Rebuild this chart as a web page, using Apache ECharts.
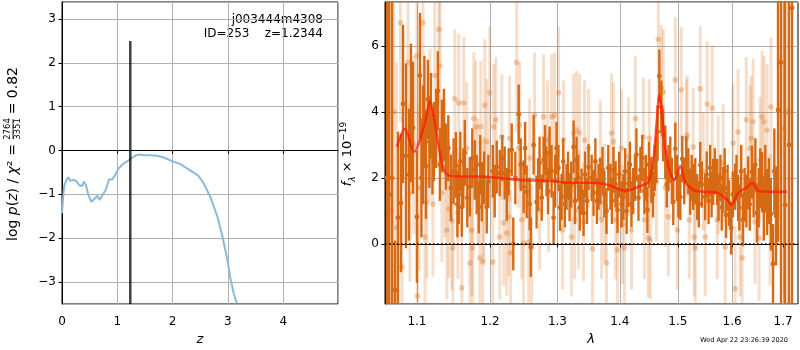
<!DOCTYPE html>
<html>
<head>
<meta charset="utf-8">
<script src="https://cdn.jsdelivr.net/npm/echarts@6/dist/echarts.min.js"></script>
<style>
html, body { margin: 0; background: #fff; }
#main { width: 800px; height: 350px; }
</style>
</head>
<body>
<div id="main"></div>
<script>
// p(z) curve: [z, log p(z)]
const pz = [
  [0.0, -1.43], [0.036, -0.83], [0.08, -0.67], [0.115, -0.61], [0.15, -0.69], [0.21, -0.67],
  [0.27, -0.71], [0.31, -0.79], [0.37, -0.81], [0.39, -0.71], [0.43, -0.77], [0.47, -0.98],
  [0.53, -1.17], [0.58, -1.11], [0.64, -1.03], [0.68, -1.13], [0.73, -1.02], [0.79, -0.90],
  [0.82, -0.86], [0.85, -0.66], [0.91, -0.66], [0.96, -0.56], [1.02, -0.41], [1.11, -0.30],
  [1.20, -0.23], [1.26, -0.17], [1.34, -0.11], [1.41, -0.09], [1.47, -0.11], [1.59, -0.11],
  [1.72, -0.12], [1.84, -0.16], [1.99, -0.24], [2.14, -0.31], [2.29, -0.43], [2.47, -0.58],
  [2.56, -0.75], [2.68, -1.05], [2.81, -1.51], [2.90, -1.96], [2.99, -2.49], [3.05, -2.95],
  [3.11, -3.29], [3.16, -3.48]
];
const zBest = 1.2344;
const zLine = [-3.5, 2.5];

// binned spectrum: [lambda, flux, err]
const darkSpec = [
  [1.0615,2.0,8],[1.0641,1.5,8],[1.0679,2.0,8],[1.0717,-1.4,1.5],[1.0755,0.8,2.6],[1.0793,1.24,2.1],
  [1.0819,4.24,2.4],[1.0857,2.67,2.8],[1.0896,2.1,2.0],[1.0922,3.97,2.1],[1.0948,3.52,2.0],[1.1,0.82,2.0],
  [1.1039,5.1,1.9],[1.1059,2.0,1.8],[1.1079,3.0,1.8],[1.1098,4.0,1.7],[1.1118,2.36,1.6],[1.1144,4.38,1.2],
  [1.1164,3.1,1.4],[1.1184,3.88,1.3],[1.1205,2.8,1.3],[1.1224,3.1,1.2],[1.1254,3.5,1.2],[1.1277,4.64,1.2],
  [1.1304,2.4,1.1],[1.1331,3.27,1.1],[1.1358,3.6,1.1],[1.1385,2.64,1.0],[1.1418,2.9,1.0],[1.1453,1.70,1.0],
  [1.149,2.2,1.0],[1.1521,2.39,1.0],[1.1542,1.2,1.0],[1.1562,1.5,0.9],[1.1582,2.5,0.9],[1.1603,1.12,0.9],
  [1.1624,2.0,0.9],[1.1644,2.76,1.0],[1.1679,1.4,0.9],[1.1714,1.73,0.9],[1.1748,2.6,0.9],[1.1783,2.24,0.9],
  [1.181,1.8,0.9],[1.1839,1.12,0.8],[1.186,2.4,0.9],[1.1882,1.58,0.9],[1.1915,2.0,0.8],[1.1952,1.12,0.8],
  [1.1975,1.9,0.8],[1.2038,2.2,0.8],[1.2065,1.6,0.8],[1.2095,2.33,0.8],[1.2138,2.15,0.7],[1.2175,2.6,0.7],
  [1.221,2.15,0.8],[1.224,1.5,0.8],[1.2268,2.2,0.7],[1.2312,2.85,0.8],[1.2335,0.0,0.8],[1.2365,2.0,0.8],
  [1.2415,3.93,0.9],[1.2445,2.4,0.8],[1.2488,1.73,0.8],[1.251,2.9,0.8],[1.2533,1.58,0.8],[1.2577,1.21,0.8],
  [1.2595,-0.1,0.9],[1.2637,3.0,0.9],[1.2682,1.27,0.8],[1.2705,1.8,0.8],[1.2727,2.45,0.8],[1.276,1.4,0.7],
  [1.2788,2.55,0.7],[1.281,2.9,0.7],[1.2833,2.15,0.7],[1.2855,1.6,0.7],[1.2879,2.76,0.8],[1.291,2.2,0.8],
  [1.2941,0.79,0.8],[1.2965,1.9,0.8],[1.2987,2.9,0.8],[1.3015,2.3,0.7],[1.304,1.1,0.7],[1.3064,1.42,0.7],
  [1.309,2.5,0.7],[1.3115,1.2,0.7],[1.3142,1.73,0.7],[1.3165,2.1,0.7],[1.3189,1.39,0.7],[1.3215,1.8,0.7],
  [1.3252,2.94,0.8],[1.3275,1.3,0.7],[1.3299,2.55,0.7],[1.3325,2.0,0.7],[1.335,1.1,0.7],[1.3378,1.58,0.7],
  [1.341,0.94,0.7],[1.3435,2.1,0.7],[1.3465,1.3,0.7],[1.349,2.33,0.7],[1.354,2.0,0.7],[1.357,1.55,0.7],
  [1.360,2.5,0.7],[1.3625,1.3,0.7],[1.3651,1.73,0.7],[1.368,1.9,0.7],[1.3716,2.24,0.7],[1.3745,1.5,0.7],
  [1.3781,1.0,0.7],[1.381,2.3,0.7],[1.3846,1.73,0.7],[1.387,1.3,0.7],[1.3896,2.24,0.7],[1.393,1.8,0.7],
  [1.3962,1.03,0.7],[1.399,2.1,0.7],[1.403,1.2,0.7],[1.4061,1.42,0.7],[1.409,2.2,0.7],[1.4115,1.0,0.7],
  [1.4145,1.82,0.7],[1.417,2.4,0.7],[1.4196,1.21,0.7],[1.4225,1.6,0.7],[1.4255,2.0,0.7],[1.428,2.7,0.8],
  [1.4315,1.4,0.7],[1.4348,2.24,0.7],[1.438,2.6,0.7],[1.4416,1.6,0.7],[1.444,2.0,0.7],[1.4467,1.03,0.7],
  [1.4495,2.4,0.7],[1.4536,1.94,0.7],[1.4565,1.5,0.7],[1.4595,2.3,0.7],[1.4623,2.55,0.7],[1.4645,3.4,0.8],
  [1.4675,5.09,0.8],[1.4709,4.15,0.8],[1.474,3.3,0.8],[1.4779,2.79,0.8],[1.4805,1.8,0.7],[1.4835,2.3,0.7],
  [1.4867,2.55,0.7],[1.4895,1.9,0.7],[1.492,1.27,0.7],[1.4956,2.88,0.8],[1.4985,2.0,0.7],[1.501,1.5,0.7],
  [1.5045,1.42,0.7],[1.508,2.58,0.7],[1.5115,1.9,0.7],[1.5152,2.55,0.7],[1.519,2.2,0.7],[1.5224,1.58,0.7],
  [1.525,2.0,0.7],[1.5278,1.73,0.7],[1.5315,1.9,0.7],[1.5351,1.42,0.7],[1.538,1.2,0.7],[1.5406,2.39,0.7],
  [1.5435,1.8,0.7],[1.5497,1.42,0.7],[1.5525,2.1,0.7],[1.556,1.3,0.7],[1.5589,2.3,0.7],[1.5615,1.5,0.7],
  [1.5645,1.88,0.7],[1.5675,2.2,0.7],[1.5719,1.88,0.7],[1.5745,1.4,0.7],[1.578,2.0,0.7],[1.5805,1.1,0.7],
  [1.5831,1.64,0.7],[1.586,2.2,0.7],[1.5887,0.88,0.7],[1.5915,1.7,0.7],[1.5944,1.24,0.7],[1.5982,0.48,0.8],
  [1.6015,1.5,0.7],[1.6058,1.73,0.7],[1.6085,2.0,0.7],[1.6115,1.39,0.7],[1.614,1.1,0.7],[1.6175,2.2,0.8],
  [1.6211,0.73,0.8],[1.624,1.5,0.8],[1.6275,1.3,0.8],[1.6308,1.85,0.8],[1.634,1.2,0.8],[1.6385,2.18,0.8],
  [1.6415,1.6,0.8],[1.645,2.4,0.8],[1.6483,0.94,0.9],[1.6515,1.4,0.9],[1.6545,2.0,0.9],[1.6581,1.88,0.9],
  [1.6615,1.0,0.9],[1.6645,2.0,1.0],[1.668,1.27,1.0],[1.6715,1.6,1.0],[1.6755,0.9,1.1],[1.6799,-0.6,1.2],
  [1.6825,2.2,1.3],[1.6859,0.85,1.5],[1.6899,4.06,4],[1.6959,5.5,8],[1.704,1.18,8],[1.7121,3,8],
  [1.7182,7.15,9]
];

// unbinned spectrum: [lambda, flux, err]
const lightSpec = [
  [1.063,2.5,8],[1.0665,1.0,8],[1.070,4.0,6],[1.0735,0.5,5],[1.0785,6.7,3.0],[1.0806,-0.7,3.0],
  [1.0883,5.5,3.0],[1.0909,1.55,2.7],[1.0961,3.0,2.7],[1.1,5.7,2.7],[1.1006,-1.58,2.5],[1.1026,1.7,2.5],
  [1.1079,6.7,2.5],[1.1105,0.21,2.4],[1.1131,1.27,2.3],[1.1171,3.6,2.3],[1.1211,1.21,2.2],[1.1237,5.1,2.3],
  [1.1291,6.5,2.3],[1.1304,5.4,2.3],[1.1331,1.55,2.1],[1.1371,2.3,2.1],[1.1399,0.42,2.1],[1.1426,1.06,2.1],
  [1.1466,0.7,2.1],[1.148,-0.12,2.1],[1.1507,4.4,2.1],[1.1548,0.94,2.0],[1.1562,4.27,2.1],[1.1603,-1.33,2.0],
  [1.1631,4.27,2.0],[1.1672,2.9,2.0],[1.1714,-0.58,2.0],[1.1741,0.42,2.0],[1.1755,-0.12,2.0],[1.1769,3.8,2.0],
  [1.1797,3.55,2.0],[1.1826,1.9,1.9],[1.1854,-0.42,2.0],[1.1868,3.55,2.0],[1.1896,-0.55,2.0],[1.191,1.33,1.9],
  [1.1924,4.2,2.0],[1.1952,3.1,1.9],[1.1995,4.58,2.0],[1.2038,-0.55,2.0],[1.2052,3.55,1.9],[1.2081,3.76,1.9],
  [1.2138,0.21,1.9],[1.2167,3.24,1.9],[1.2196,0.64,1.9],[1.2239,0.33,1.9],[1.2268,0.82,1.8],[1.2283,3.2,1.9],
  [1.2297,-0.27,1.9],[1.2385,5.5,2.1],[1.2415,2.9,1.8],[1.2429,3.6,1.9],[1.2459,0.73,1.8],[1.2488,0.03,1.9],
  [1.2562,0.06,1.9],[1.2577,2.6,1.8],[1.2607,-0.09,1.9],[1.2652,3.9,1.9],[1.2727,1.03,1.8],[1.2788,3.85,1.9],
  [1.2848,3.15,1.8],[1.2863,1.55,1.8],[1.291,3.85,1.9],[1.2956,3.9,1.9],[1.3018,4.58,2.0],[1.308,0.42,1.8],
  [1.3095,3.15,1.8],[1.322,0.21,1.8],[1.3252,3.36,1.8],[1.3268,0.73,1.8],[1.3299,3.45,1.8],[1.3331,1.03,1.8],
  [1.3346,3.36,1.8],[1.341,0.67,1.8],[1.3426,3.15,1.8],[1.349,2.9,1.8],[1.3554,-0.15,1.8],[1.3683,2.55,1.8],
  [1.3699,0.73,1.8],[1.3748,1.24,1.8],[1.3781,-0.58,1.8],[1.3862,3.36,1.8],[1.3896,3.1,1.8],[1.3929,0.73,1.8],
  [1.3962,-0.18,1.8],[1.4028,2.9,1.8],[1.4045,0.58,1.8],[1.4078,-0.12,1.8],[1.4145,2.64,1.8],[1.4196,0.42,1.8],
  [1.4263,3.8,1.9],[1.4399,3.24,1.8],[1.4416,0.73,1.8],[1.4484,0.18,1.8],[1.4501,3.2,1.8],[1.4519,0.12,1.8],
  [1.4623,1.88,1.8],[1.4657,6.2,1.9],[1.4709,4.73,1.9],[1.4744,4.6,1.9],[1.4779,1.7,1.8],[1.4832,0.82,1.8],
  [1.4956,4.97,1.9],[1.4992,0.42,1.8],[1.5062,4.67,1.9],[1.5152,3.2,1.8],[1.517,3.3,1.8],[1.5206,0.73,1.8],
  [1.5278,2.94,1.8],[1.5296,0.21,1.8],[1.5314,-0.12,1.8],[1.5406,4.7,1.9],[1.5462,2.2,1.8],[1.5497,0.21,1.8],
  [1.5534,4.24,1.9],[1.5627,4.12,1.9],[1.5719,0.73,1.8],[1.5738,2.09,1.8],[1.5831,2.45,1.8],[1.5868,-0.09,1.8],
  [1.602,3.06,1.8],[1.6058,-1.36,1.9],[1.6115,3.39,1.9],[1.6153,0.21,1.8],[1.6192,-0.42,1.8],[1.6273,3.76,1.9],
  [1.6346,2.9,1.9],[1.6366,3.2,1.9],[1.6405,3.7,1.9],[1.6444,0.67,1.9],[1.6522,0.18,1.9],[1.6541,2.55,1.9],
  [1.6581,3.85,2.0],[1.662,3.7,2.0],[1.668,3.45,2.0],[1.674,0.73,2.0],[1.6759,4.15,2.1],[1.6939,3.24,2.5],
  [1.702,3.5,5],[1.7101,4,6]
];

// best-fit model: [lambda, flux]
const modelSpec = [
  [1.074,2.94],[1.0844,3.48],[1.0961,2.79],[1.1105,3.67],[1.1171,4.33],[1.1237,3.67],[1.1304,2.76],
  [1.1371,2.18],[1.1466,2.06],[1.1995,2.03],[1.243,1.94],[1.294,1.91],[1.314,1.85],[1.3538,1.85],
  [1.3814,1.79],[1.4094,1.61],[1.4313,1.73],[1.4484,1.88],[1.4571,2.55],[1.4623,3.55],[1.4675,4.52],
  [1.4726,3.85],[1.478,2.85],[1.4867,2.15],[1.4938,1.94],[1.5045,2.36],[1.5135,1.88],[1.5279,1.64],
  [1.5462,1.58],[1.5721,1.55],[1.5908,1.33],[1.5985,1.18],[1.6119,1.55],[1.6273,1.70],[1.6388,1.85],
  [1.6506,1.61],[1.674,1.58],[1.708,1.58]
];

const lamTicks = [1.1, 1.2, 1.3, 1.4, 1.5, 1.6, 1.7];

const FONT = 'DejaVu Sans';
const GRIDC = '#b0b0b0';
const ORANGE = '#d66a14';

function minus(v) {
  return v < 0 ? '\u2212' + Math.abs(v) : String(v);
}

// error bar + marker drawn through the axes
function errorBars(barColor, barWidth, dotColor, r) {
  return function (params, api) {
    const cs = params.coordSys;
    const x = api.value(0), y = api.value(1), e = api.value(2);
    const p = api.coord([x, y]);
    let top = api.coord([x, y + e])[1];
    let bot = api.coord([x, y - e])[1];
    top = Math.max(top, cs.y);
    bot = Math.min(bot, cs.y + cs.height);
    const kids = [];
    if (bot > top) {
      kids.push({ type: 'line', shape: { x1: p[0], y1: top, x2: p[0], y2: bot },
        style: { stroke: barColor, lineWidth: barWidth } });
    }
    if (p[1] >= cs.y && p[1] <= cs.y + cs.height) {
      kids.push({ type: 'circle', shape: { cx: p[0], cy: p[1], r: r }, style: { fill: dotColor } });
    }
    return { type: 'group', children: kids };
  };
}

const chart = echarts.init(document.getElementById('main'));

const axisCommon = {
  axisLine: { lineStyle: { color: '#000' } },
  axisTick: { length: 3.5, lineStyle: { color: '#000' } },
  splitLine: { lineStyle: { color: GRIDC, width: 1 } }
};

const option = {
  animation: false,
  textStyle: { fontFamily: FONT },
  grid: [
    { left: 62, top: 2, width: 276, height: 302, show: true, borderColor: '#000', borderWidth: 1 },
    { left: 385, top: 2, width: 413, height: 302, show: true, borderColor: '#000', borderWidth: 1 }
  ],
  xAxis: [
    Object.assign({}, axisCommon, {
      gridIndex: 0, type: 'value', min: 0, max: 4.99, splitNumber: 5, minInterval: 1, maxInterval: 1,
      axisLabel: { color: '#000', fontSize: 12, margin: 12, showMaxLabel: false, formatter: minus }
    }),
    Object.assign({}, axisCommon, {
      gridIndex: 1, type: 'log', logBase: 10, min: 1.059, max: 1.7305,
      axisTick: { length: 3.5, lineStyle: { color: '#000' }, customValues: lamTicks },
      axisLabel: { color: '#000', fontSize: 12, margin: 12, customValues: lamTicks,
        formatter: function (v) { return (+v).toFixed(1); } }
    })
  ],
  yAxis: [
    Object.assign({}, axisCommon, {
      gridIndex: 0, type: 'value', min: -3.5, max: 3.387, splitNumber: 7, minInterval: 1, maxInterval: 1,
      axisLabel: { color: '#000', fontSize: 12, margin: 6, showMinLabel: false, showMaxLabel: false, formatter: minus }
    }),
    Object.assign({}, axisCommon, {
      gridIndex: 1, type: 'value', min: -1.82, max: 7.33, splitNumber: 5, minInterval: 2, maxInterval: 2,
      axisLabel: { color: '#000', fontSize: 12, margin: 6, showMinLabel: false, showMaxLabel: false, formatter: minus }
    })
  ],
  series: [
    {
      type: 'line', xAxisIndex: 0, yAxisIndex: 0, data: pz, showSymbol: false, z: 3,
      lineStyle: { color: '#8cbad9', width: 2 }
    },
    {
      type: 'line', xAxisIndex: 0, yAxisIndex: 0, showSymbol: false, z: 4,
      data: [[zBest, zLine[0]], [zBest, zLine[1]]],
      lineStyle: { color: 'rgba(0,0,0,0.75)', width: 2.5 }
    },
    {
      type: 'custom', xAxisIndex: 1, yAxisIndex: 1, z: 2,
      dimensions: ['lam', 'flux', 'err'], encode: { x: 0, y: 1 },
      renderItem: errorBars('rgba(214,106,20,0.22)', 3, 'rgba(214,106,20,0.32)', 2.8),
      data: lightSpec
    },
    {
      type: 'custom', xAxisIndex: 1, yAxisIndex: 1, z: 3,
      dimensions: ['lam', 'flux', 'err'], encode: { x: 0, y: 1 },
      renderItem: errorBars(ORANGE, 2.4, ORANGE, 2.4),
      data: darkSpec
    },
    {
      type: 'line', xAxisIndex: 1, yAxisIndex: 1, data: modelSpec, showSymbol: false, smooth: 0.3, z: 5,
      lineStyle: { color: 'rgba(255,25,0,0.72)', width: 2.5 },
      markLine: {
        silent: true, symbol: 'none', label: { show: false },
        lineStyle: { color: '#000', width: 1.5, type: [1.5, 2.5] },
        data: [{ yAxis: 0 }]
      }
    }
  ],
  graphic: [
    { type: 'text', x: 323, y: 20, style: { text: 'j003444m4308', fontFamily: FONT, fontSize: 12, fill: '#000', align: 'right', verticalAlign: 'middle' } },
    { type: 'text', x: 323, y: 34, style: { text: 'ID=253    z=1.2344', fontFamily: FONT, fontSize: 12, fill: '#000', align: 'right', verticalAlign: 'middle' } },
    { type: 'text', x: 200, y: 340, style: { text: 'z', fontFamily: FONT, fontStyle: 'italic', fontSize: 13, fill: '#000', align: 'center', verticalAlign: 'middle' } },
    { type: 'text', x: 591, y: 340, style: { text: 'λ', fontFamily: FONT, fontStyle: 'italic', fontSize: 13, fill: '#000', align: 'center', verticalAlign: 'middle' } },
    { type: 'text', x: 788, y: 340, style: { text: 'Wed Apr 22 23:26:39 2020', fontFamily: FONT, fontSize: 6.5, fill: '#000', align: 'right', verticalAlign: 'middle' } },
    {
      type: 'group', x: 13, y: 241, rotation: Math.PI / 2,
      children: [
        { type: 'text', x: 0, y: 0, style: {
          text: '{n|log }{i|p}{n|(}{i|z}{n|) / }{i|χ}{n|²}', verticalAlign: 'middle', align: 'left',
          rich: { n: { fontFamily: FONT, fontSize: 14 }, i: { fontFamily: FONT, fontSize: 14, fontStyle: 'italic' } } } },
        { type: 'text', x: 91, y: 0, style: { text: '=', fontFamily: FONT, fontSize: 14, align: 'center', verticalAlign: 'middle' } },
        { type: 'text', x: 112, y: -5, style: { text: '2764', fontFamily: FONT, fontSize: 8.5, align: 'center', verticalAlign: 'middle' } },
        { type: 'line', shape: { x1: 102, y1: 0, x2: 122, y2: 0 }, style: { stroke: '#000', lineWidth: 0.8 } },
        { type: 'text', x: 112, y: 5, style: { text: '3351', fontFamily: FONT, fontSize: 8.5, align: 'center', verticalAlign: 'middle' } },
        { type: 'text', x: 174, y: 0, style: { text: '= 0.82', fontFamily: FONT, fontSize: 14, align: 'right', verticalAlign: 'middle' } }
      ]
    },
    {
      type: 'group', x: 348, y: 154, rotation: Math.PI / 2,
      children: [
        { type: 'text', x: 0, y: 0, style: {
          text: '{i|f}{sub|λ}{n| × 10}{sup|−19}', align: 'center', verticalAlign: 'middle',
          rich: {
            n: { fontFamily: FONT, fontSize: 13, lineHeight: 18 },
            i: { fontFamily: FONT, fontSize: 13, fontStyle: 'italic', lineHeight: 18 },
            sub: { fontFamily: FONT, fontSize: 9, fontStyle: 'italic', verticalAlign: 'bottom', lineHeight: 9 },
            sup: { fontFamily: FONT, fontSize: 9, verticalAlign: 'top', lineHeight: 9 }
          } } }
      ]
    }
  ]
};

chart.setOption(option);
</script>
</body>
</html>
